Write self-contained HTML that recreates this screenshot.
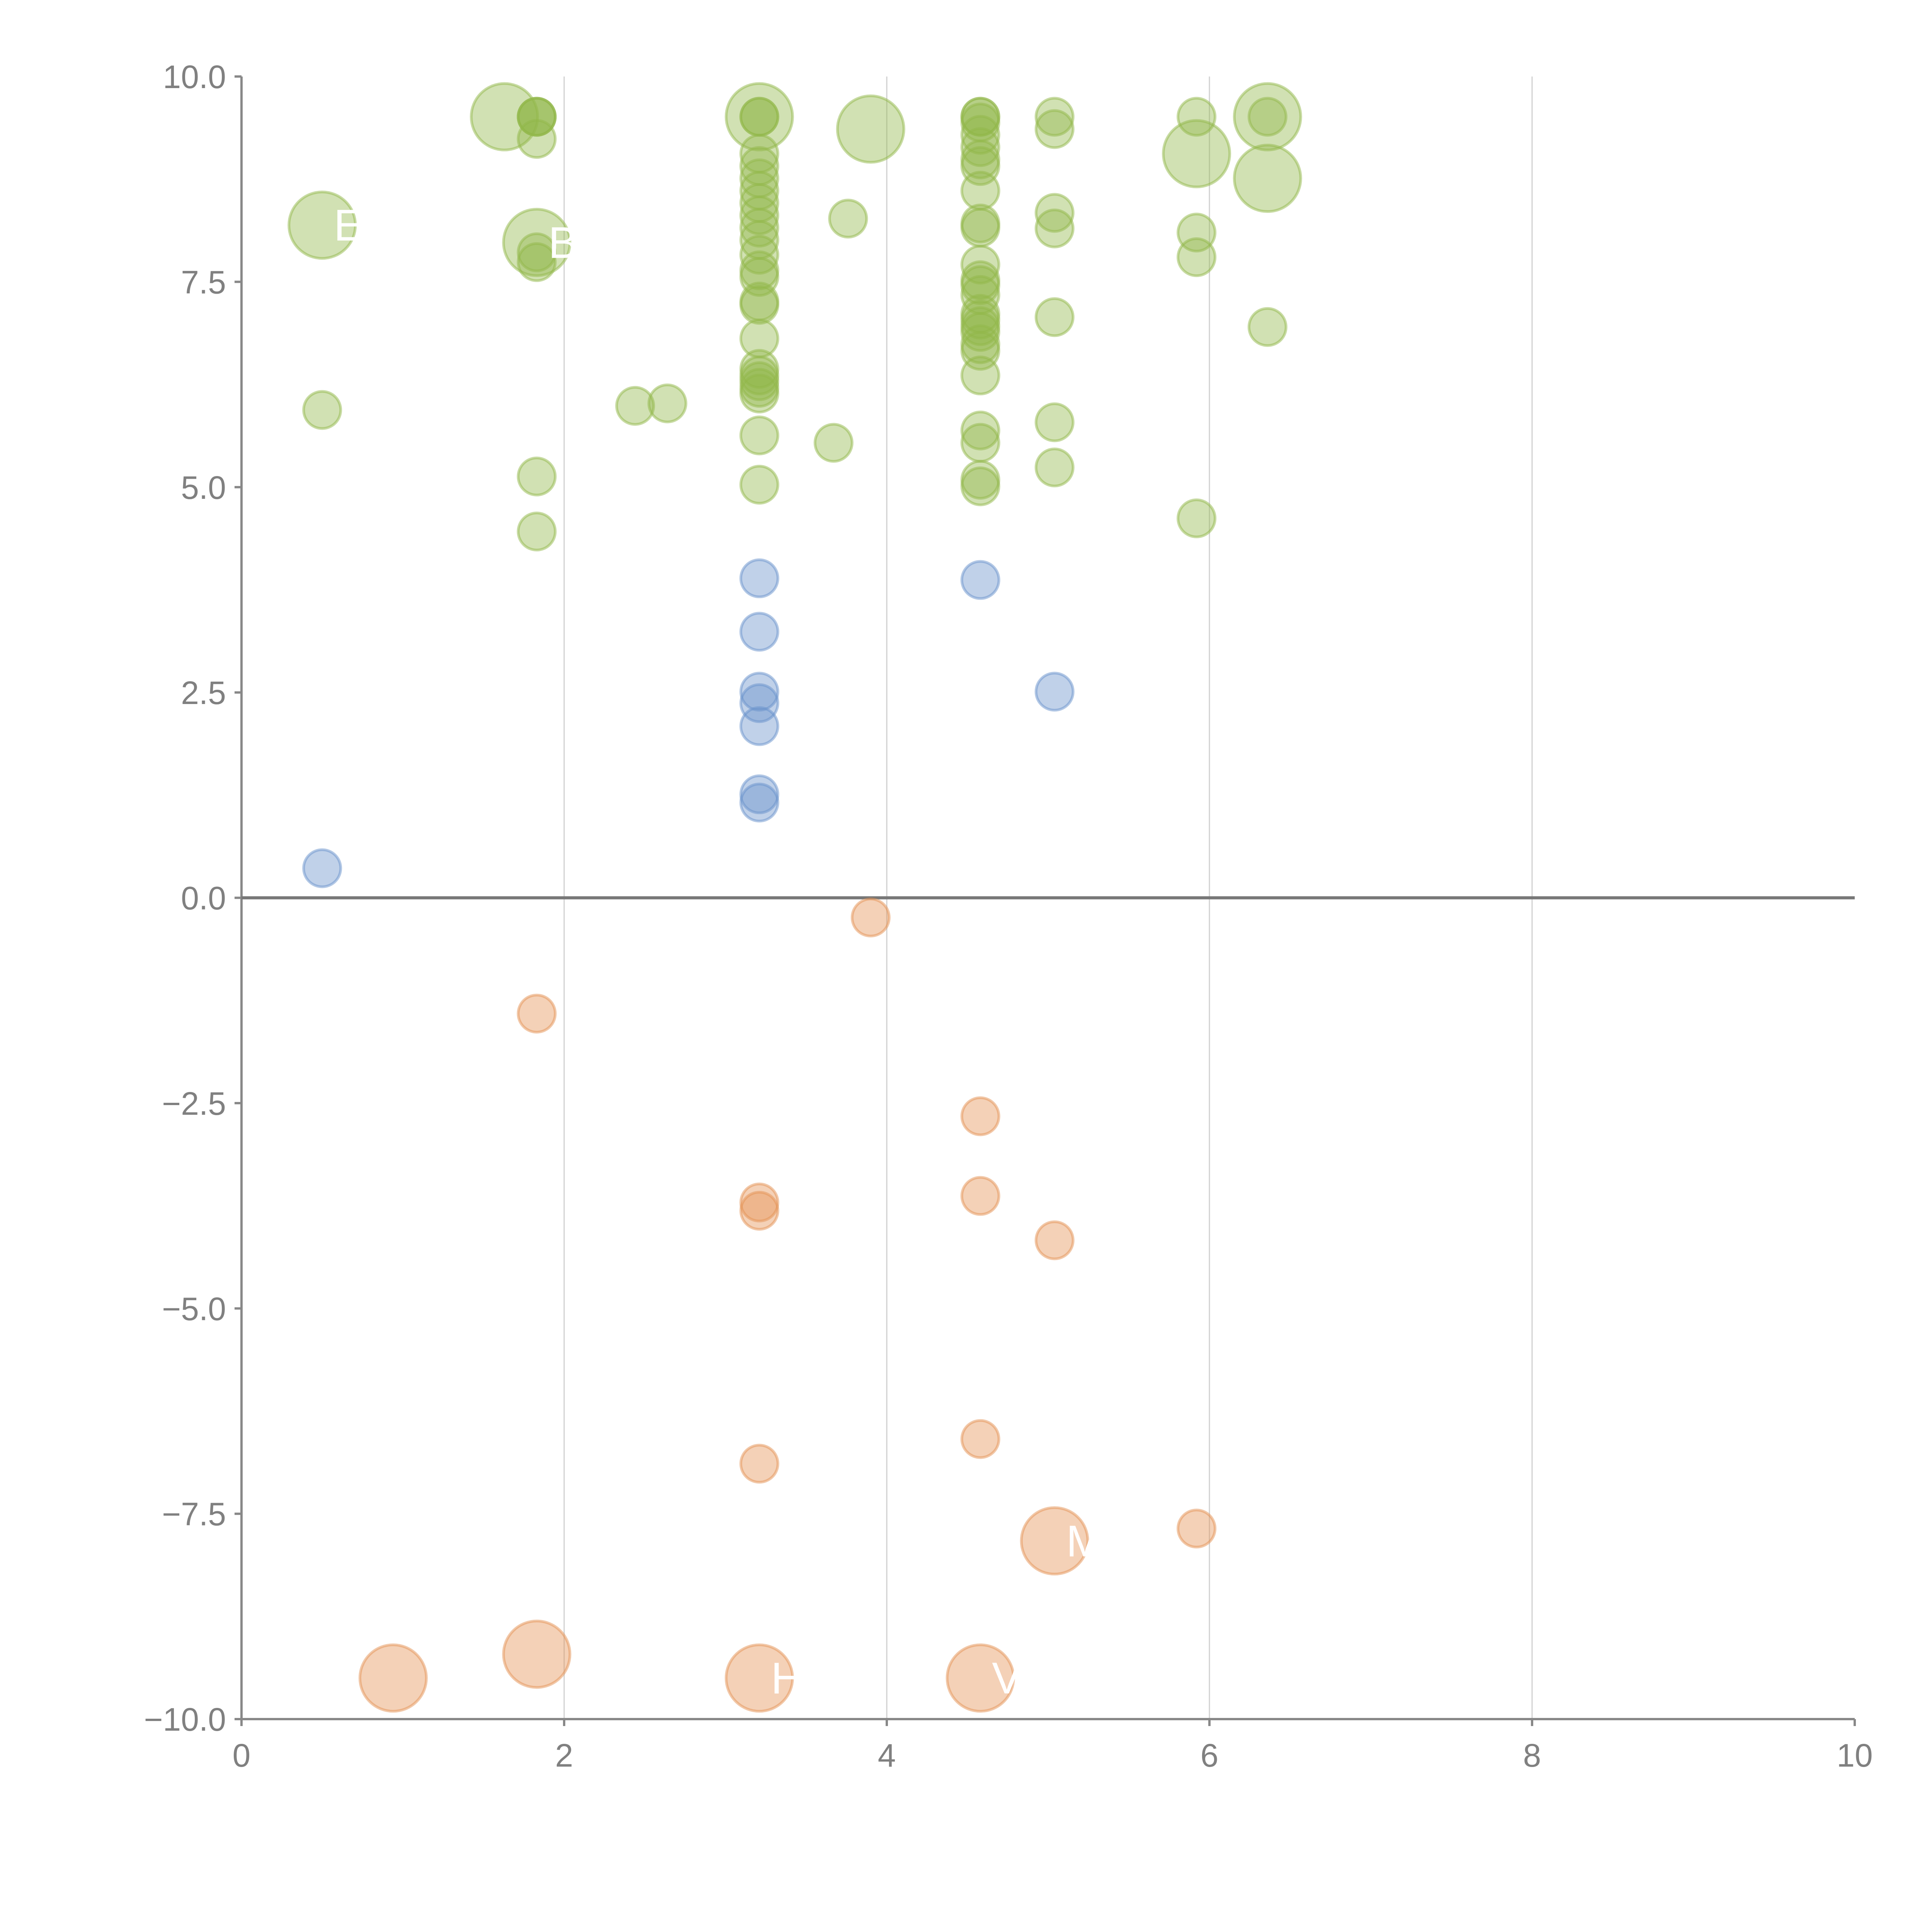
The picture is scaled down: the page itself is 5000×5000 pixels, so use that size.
<!DOCTYPE html>
<html><head><meta charset="utf-8"><style>
html,body{margin:0;padding:0;background:#fff;width:5000px;height:5000px;overflow:hidden}
svg{display:block}
text{font-family:"Liberation Sans",Arial,sans-serif}
</style></head><body>
<svg id="chart" width="5000" height="5000" viewBox="0 0 5000 5000" xmlns="http://www.w3.org/2000/svg"></svg>
<script>
const xTicks=[0,2,4,6,8,10];
const yTicks=[10,7.5,5,2.5,0,-2.5,-5,-7.5,-10];
const yTickLabels=["10.0","7.5","5.0","2.5","0.0","\u22122.5","\u22125.0","\u22127.5","\u221210.0"];
// green series
const greenX=[0.5,0.5,1.63,1.83,1.83,1.83,1.83,1.83,1.83,1.83,1.83,1.83,2.44,2.64,
3.21,3.21,3.21,3.21,3.21,3.21,3.21,3.21,3.21,3.21,3.21,3.21,3.21,3.21,3.21,3.21,3.21,3.21,3.21,3.21,3.21,3.21,3.21,3.21,
3.67,3.76,3.9,
4.58,4.58,4.58,4.58,4.58,4.58,4.58,4.58,4.58,4.58,4.58,4.58,4.58,4.58,4.58,4.58,4.58,4.58,4.58,4.58,4.58,4.58,4.58,4.58,4.58,
5.04,5.04,5.04,5.04,5.04,5.04,5.04,
5.92,5.92,5.92,5.92,5.92,6.36,6.36,6.36,6.36];
const greenY=[8.19,5.94,9.51,9.51,9.51,9.24,7.98,7.86,7.74,5.13,4.46,9.51,5.99,6.02,
9.51,9.51,9.06,8.91,8.76,8.61,8.46,8.31,8.16,8.01,7.83,7.64,7.56,7.26,7.22,6.81,6.44,6.36,6.29,6.21,6.14,5.63,5.03,9.51,
5.54,8.27,9.36,
9.51,9.51,9.44,9.29,9.14,8.99,8.91,8.61,8.21,8.16,7.71,7.52,7.46,7.34,7.11,7.04,6.96,6.89,6.74,6.66,6.36,5.69,5.54,5.09,5.01,
9.51,9.36,8.34,8.15,7.07,5.79,5.24,
9.06,8.10,7.80,4.62,9.51,9.51,9.51,8.76,6.95];
const greenBig=[1,0,1,0,0,0,1,0,0,0,0,0,0,0,
1,0,0,0,0,0,0,0,0,0,0,0,0,0,0,0,0,0,0,0,0,0,0,0,
0,0,1,
0,0,0,0,0,0,0,0,0,0,0,0,0,0,0,0,0,0,0,0,0,0,0,0,0,
0,0,0,0,0,0,0,
1,0,0,0,0,1,0,1,0];
// blue series
const blueX=[0.5,3.21,3.21,3.21,3.21,3.21,3.21,3.21,4.58,5.04];
const blueY=[0.36,3.89,3.24,2.51,2.37,2.09,1.26,1.16,3.87,2.51];
// orange series
const orangeX=[3.9,1.83,4.58,3.21,3.21,4.58,5.04,3.21,4.58,5.04,5.92,0.94,1.83,3.21,4.58];
const orangeY=[-0.24,-1.41,-2.66,-3.71,-3.81,-3.63,-4.17,-6.89,-6.59,-7.83,-7.68,-9.50,-9.21,-9.50,-9.50];
const orangeBig=[0,0,0,0,0,0,0,0,0,1,0,1,1,1,1];
const labelText=["E","B","M","H","V"];
const labelX=[0.5,1.83,5.04,3.21,4.58];
const labelY=[8.19,7.98,-7.83,-9.50,-9.50];

const X0=625,X1=4800,Y0=4449,Y1=198;
const sx=v=>X0+(v-0)/(10-0)*(X1-X0);
const sy=v=>Y0-(v+10)/20*(Y0-Y1);
const svg=document.getElementById('chart');
const NS='http://www.w3.org/2000/svg';
function mk(t,a){const e=document.createElementNS(NS,t);for(const k in a)e.setAttribute(k,a[k]);svg.appendChild(e);return e;}

xTicks.forEach(t=>{if(t>0&&t<10){const l=mk('line',{x1:sx(t),x2:sx(t),y1:Y1,y2:Y0,stroke:'#d0d0d0','stroke-width':3});

}});
let ax=mk('line',{x1:X0,x2:X0,y1:Y1,y2:Y0,stroke:'#888','stroke-width':6});


let bx=mk('line',{x1:X0,x2:X1,y1:Y0,y2:Y0,stroke:'#888','stroke-width':6});


let zl=mk('line',{x1:X0,x2:X1,y1:sy(0),y2:sy(0),stroke:'#777','stroke-width':8});


yTicks.forEach((t,i)=>{
 const tk=mk('line',{x1:X0-18,x2:X0,y1:sy(t),y2:sy(t),stroke:'#888','stroke-width':6});
 
 
 const tx=mk('text',{x:X0-40,y:sy(t)+30,'text-anchor':'end','font-size':84,fill:'#808080'});
 tx.textContent=yTickLabels[i];
 
 
});
xTicks.forEach(t=>{
 const tk=mk('line',{x1:sx(t),x2:sx(t),y1:Y0,y2:Y0+18,stroke:'#888','stroke-width':6});
 
 
 const tx=mk('text',{x:sx(t),y:Y0+123,'text-anchor':'middle','font-size':84,fill:'#808080'});
 tx.textContent=String(t);
 
 
});
function series(xs,ys,big,fill,name){
 xs.forEach((x,i)=>{
  const c=mk('circle',{cx:sx(x),cy:sy(ys[i]),r:big&&big[i]?86:48,fill:fill,'fill-opacity':0.42,stroke:fill,'stroke-opacity':0.5,'stroke-width':7});
  
  
 });
}
series(greenX,greenY,greenBig,'rgb(146,184,74)','green-bubble');
series(blueX,blueY,null,'rgb(104,145,203)','blue-bubble');
series(orangeX,orangeY,orangeBig,'rgb(228,146,84)','orange-bubble');
labelText.forEach((s,i)=>{
 const t=mk('text',{x:sx(labelX[i])+30,y:sy(labelY[i])+40,'font-size':115,fill:'#fff'});
 t.textContent=s;
 
 
});
</script>
</body></html>
